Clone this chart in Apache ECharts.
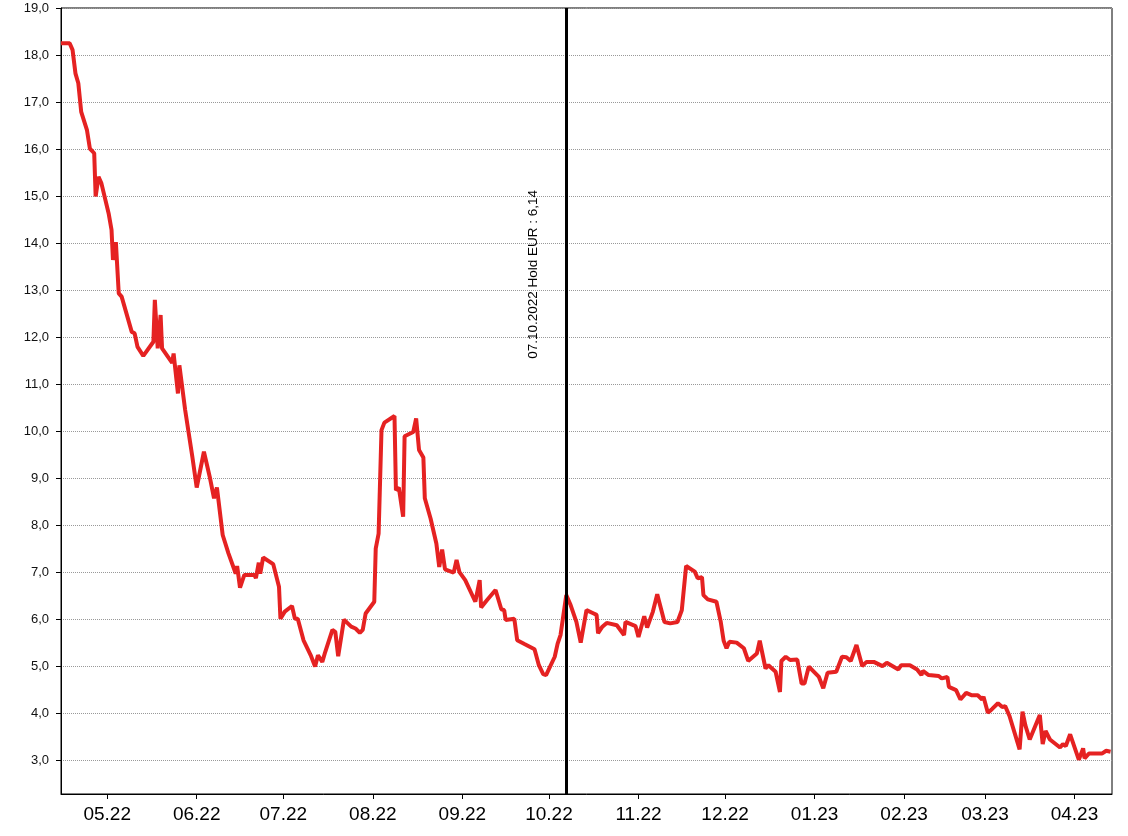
<!DOCTYPE html>
<html><head><meta charset="utf-8">
<script src="https://cdn.jsdelivr.net/npm/echarts@6/dist/echarts.min.js"></script>
<style>html,body{margin:0;padding:0;background:#fff}#c{width:1128px;height:836px}</style>
</head><body><div id="c"></div>
<script>
const dates = [
'2022-04-15','2022-04-18','2022-04-19','2022-04-20','2022-04-21','2022-04-22','2022-04-24','2022-04-25','2022-04-26 12:00','2022-04-27',
'2022-04-28','2022-04-29','2022-05-01 12:00','2022-05-02 12:00','2022-05-03','2022-05-04','2022-05-05','2022-05-06','2022-05-09 12:00','2022-05-10 12:00',
'2022-05-11 12:00','2022-05-13 12:00','2022-05-17','2022-05-17 12:00','2022-05-18 12:00','2022-05-19 12:00','2022-05-20','2022-05-23 12:00','2022-05-24','2022-05-25 12:00',
'2022-05-26','2022-05-28','2022-05-30 12:00','2022-06-01','2022-06-03 12:00','2022-06-05 12:00','2022-06-07','2022-06-08','2022-06-10','2022-06-12',
'2022-06-14 12:00','2022-06-15','2022-06-16','2022-06-17 12:00','2022-06-21','2022-06-21 12:00','2022-06-22 12:00','2022-06-23','2022-06-24','2022-06-27 12:00',
'2022-06-29 12:00','2022-06-30','2022-07-01 12:00','2022-07-04','2022-07-05','2022-07-06','2022-07-08','2022-07-10 12:00','2022-07-12','2022-07-13',
'2022-07-14 12:00','2022-07-15 12:00','2022-07-18','2022-07-19','2022-07-20','2022-07-22','2022-07-24 12:00','2022-07-26','2022-07-27 12:00','2022-07-28 12:00',
'2022-07-29 12:00','2022-08-01 12:00','2022-08-02','2022-08-03','2022-08-04','2022-08-05','2022-08-08 12:00','2022-08-09','2022-08-10','2022-08-11 12:00',
'2022-08-12','2022-08-15','2022-08-16','2022-08-17','2022-08-18 12:00','2022-08-19','2022-08-21','2022-08-23','2022-08-24','2022-08-25',
'2022-08-26','2022-08-29','2022-08-30','2022-08-31','2022-09-02','2022-09-05 12:00','2022-09-07','2022-09-07 12:00','2022-09-09 12:00','2022-09-12 12:00',
'2022-09-14 12:00','2022-09-15 12:00','2022-09-16','2022-09-19','2022-09-20','2022-09-22 12:00','2022-09-26','2022-09-27 12:00','2022-09-29','2022-09-30',
'2022-10-03','2022-10-04','2022-10-05','2022-10-07','2022-10-08 12:00','2022-10-10 12:00','2022-10-12','2022-10-14','2022-10-16 12:00','2022-10-17 12:00',
'2022-10-18','2022-10-19 12:00','2022-10-21','2022-10-24 12:00','2022-10-27','2022-10-27 12:00','2022-10-31','2022-11-01','2022-11-03','2022-11-04',
'2022-11-06','2022-11-07 12:00','2022-11-10','2022-11-12','2022-11-14 12:00','2022-11-16','2022-11-17 12:00','2022-11-20 12:00','2022-11-21 12:00','2022-11-23',
'2022-11-23 12:00','2022-11-25','2022-11-28','2022-11-29 12:00','2022-11-30 12:00','2022-12-01 12:00','2022-12-02 12:00','2022-12-05','2022-12-07 12:00','2022-12-09',
'2022-12-12','2022-12-13','2022-12-15','2022-12-16','2022-12-18 12:00','2022-12-20','2022-12-20 12:00','2022-12-22','2022-12-23 12:00','2022-12-26',
'2022-12-27 12:00','2022-12-28 12:00','2022-12-30','2023-01-02 12:00','2023-01-04','2023-01-05 12:00','2023-01-08 12:00','2023-01-10 12:00','2023-01-12','2023-01-13 12:00',
'2023-01-15 12:00','2023-01-17 12:00','2023-01-19','2023-01-21 12:00','2023-01-24 12:00','2023-01-26','2023-01-30','2023-01-31','2023-02-03','2023-02-05 12:00',
'2023-02-07','2023-02-07 12:00','2023-02-09 12:00','2023-02-13','2023-02-14','2023-02-16','2023-02-16 12:00','2023-02-19','2023-02-20 12:00','2023-02-22 12:00',
'2023-02-24 12:00','2023-02-26 12:00','2023-02-28','2023-02-28 12:00','2023-03-02','2023-03-03 12:00','2023-03-05 12:00','2023-03-07','2023-03-08','2023-03-09 12:00',
'2023-03-13','2023-03-14','2023-03-15','2023-03-16 12:00','2023-03-20','2023-03-21','2023-03-22','2023-03-23 12:00','2023-03-27','2023-03-28',
'2023-03-29','2023-03-30 12:00','2023-04-02 12:00','2023-04-04','2023-04-04 12:00','2023-04-06','2023-04-10 12:00','2023-04-12','2023-04-13 12:00'
];
const values = [
18.25,18.25,18.11,17.61,17.40,16.79,16.40,16.01,15.91,14.99,
15.41,15.27,14.63,14.28,13.64,14.02,12.93,12.86,12.11,12.08,
11.79,11.60,11.90,12.79,11.76,12.47,11.76,11.45,11.65,10.80,
11.40,10.45,9.45,8.80,9.56,9.03,8.57,8.80,7.79,7.40,
6.97,7.13,6.67,6.94,6.94,6.87,7.20,6.97,7.31,7.17,
6.69,6.01,6.16,6.28,6.01,6.01,5.55,5.23,4.99,5.23,
5.09,5.30,5.77,5.73,5.21,5.99,5.84,5.80,5.71,5.77,
6.12,6.37,7.50,7.82,10.02,10.18,10.32,8.74,8.80,8.18,
9.89,9.98,10.27,9.60,9.44,8.57,8.14,7.61,7.11,7.48,
7.06,6.99,7.26,7.00,6.83,6.37,6.83,6.25,6.40,6.62,
6.21,6.19,5.98,6.01,5.55,5.47,5.36,5.02,4.83,4.81,
5.20,5.48,5.66,6.51,6.30,5.94,5.50,6.19,6.12,6.09,
5.70,5.84,5.92,5.87,5.66,5.94,5.85,5.62,6.06,5.82,
6.16,6.53,5.94,5.91,5.94,6.19,7.13,7.01,6.87,6.89,
6.51,6.42,6.37,5.94,5.54,5.38,5.52,5.50,5.38,5.11,
5.27,5.54,4.95,5.02,4.88,4.45,5.11,5.20,5.13,5.14,
4.63,4.63,4.99,4.77,4.53,4.86,4.88,5.20,5.19,5.11,
5.45,5.00,5.09,5.09,5.00,5.07,4.93,5.02,5.02,4.93,
4.81,4.90,4.81,4.79,4.74,4.77,4.56,4.49,4.29,4.43,
4.38,4.38,4.29,4.35,4.01,4.09,4.21,4.13,4.15,3.94,
3.23,4.03,3.74,3.44,3.96,3.34,3.62,3.44,3.27,3.34,
3.30,3.55,3.01,3.25,3.04,3.14,3.14,3.20,3.18
];
const yTicks = [3,4,5,6,7,8,9,10,11,12,13,14,15,16,17,18,19];
const monthTicks = ['2022-05-01','2022-06-01','2022-07-01','2022-08-01','2022-09-01','2022-10-01','2022-11-01','2022-12-01','2023-01-01','2023-02-01','2023-03-01','2023-04-01'];
const axisStart = '2022-04-15';
const axisEnd = '2023-04-14';
const yMin = 2.28, yMax = 19;
const markerDate = '2022-10-07';
const markerText = '07.10.2022 Hold EUR : 6,14';

function ts(s) {
  const parts = s.split(' ');
  const d = parts[0].split('-').map(Number);
  const h = parts[1] ? Number(parts[1].split(':')[0]) : 0;
  return new Date(d[0], d[1] - 1, d[2], h).getTime();
}
const seriesData = dates.map((d, i) => [ts(d), values[i]]);
const font = "'Liberation Sans', Arial, sans-serif";

const chart = echarts.init(document.getElementById('c'), null, {renderer: 'canvas'});
chart.setOption({
  animation: false,
  backgroundColor: '#fff',
  grid: {left: 61, right: 16, top: 8, bottom: 42, show: true, borderColor: '#000', borderWidth: 1, backgroundColor: 'transparent'},
  xAxis: {
    type: 'value',
    min: ts(axisStart), max: ts(axisEnd),
    axisLine: {lineStyle: {color: '#000', width: 1}},
    axisTick: {show: true, length: 5, inside: false, lineStyle: {color: '#000'}, customValues: monthTicks.map(ts)},
    axisLabel: {
      customValues: monthTicks.map(ts),
      color: '#000', fontSize: 19, fontFamily: font, margin: 11,
      formatter: v => { const d = new Date(v); return String(d.getMonth() + 1).padStart(2, '0') + '.' + String(d.getFullYear() % 100).padStart(2, '0'); }
    },
    splitLine: {show: false}
  },
  yAxis: {
    type: 'value',
    min: yMin, max: yMax,
    axisLine: {show: true, lineStyle: {color: '#000', width: 1}},
    axisTick: {show: true, length: 5, lineStyle: {color: '#000'}, customValues: yTicks},
    axisLabel: {customValues: yTicks, color: '#111', fontSize: 13, fontFamily: font, margin: 12,
      formatter: v => v.toFixed(1).replace('.', ',')},
    splitLine: {show: true, lineStyle: {color: '#999', type: 'dotted', width: 1}}
  },
  series: [{
    type: 'line',
    data: seriesData,
    showSymbol: false,
    symbol: 'none',
    lineStyle: {color: '#e52222', width: 4},
    itemStyle: {color: '#e52222'},
    markLine: {
      silent: true,
      symbol: ['none', 'none'],
      lineStyle: {color: '#000', width: 3, type: 'solid'},
      label: {show: true, position: 'insideEndTop', distance: [182, 26], formatter: markerText, color: '#000', fontSize: 13.5, fontFamily: font},
      data: [{xAxis: ts(markerDate)}]
    }
  }]
});
</script></body></html>
